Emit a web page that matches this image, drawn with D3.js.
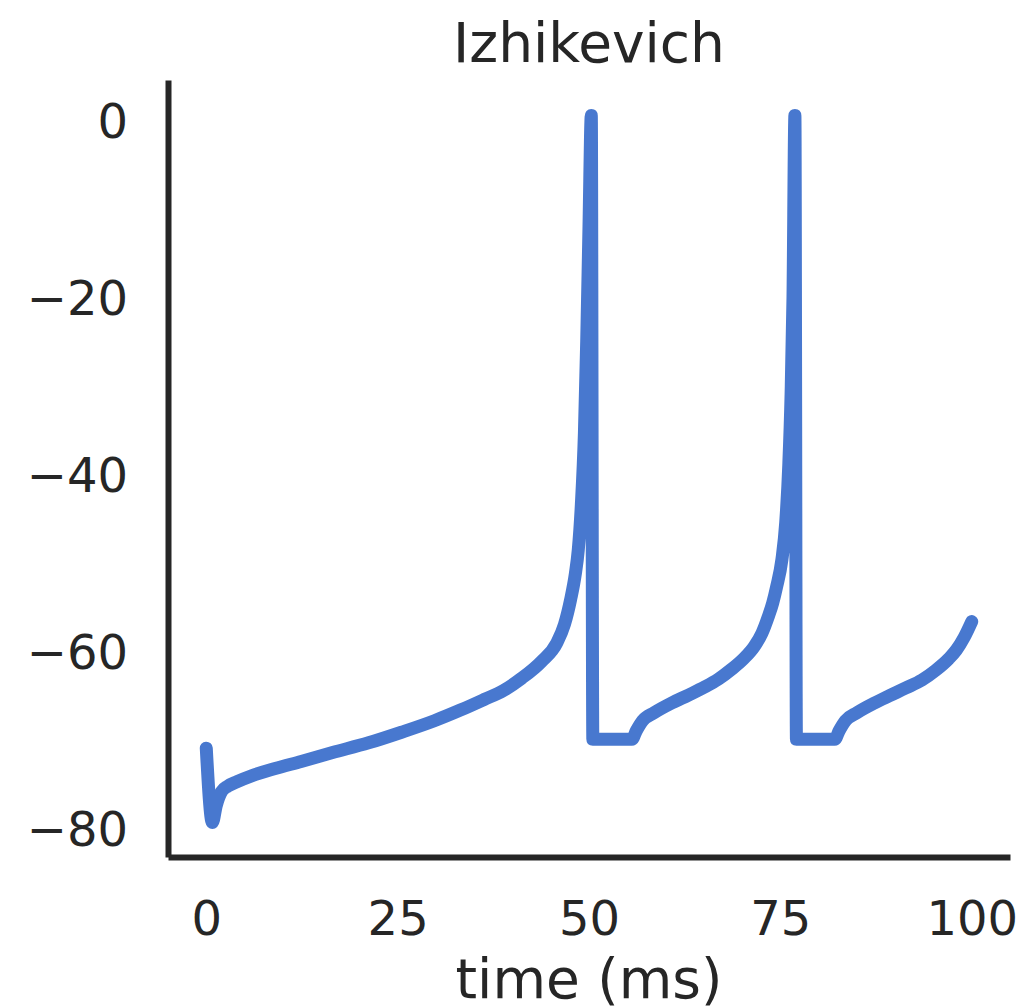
<!DOCTYPE html>
<html>
<head>
<meta charset="utf-8">
<script src="https://cdnjs.cloudflare.com/ajax/libs/d3/7.8.5/d3.min.js"></script>
<style>
  body { margin: 0; background: #fff; }
  text { font-family: "DejaVu Sans", sans-serif; fill: #262626; }
</style>
</head>
<body>
<svg id="viz" width="1025" height="1006"></svg>
<script>
/*********************/
/*** DATA          ***/
/*********************/

// membrane potential
let timeMs = [0, 0.8, 1.3, 2.0, 2.8, 4.0, 6.0, 9.0, 12.4, 16.5, 21.2, 25.5, 29.8, 33.2, 36.3, 38.8,
              41.2, 43.8, 45.8, 46.8, 47.6, 48.2, 48.6, 49.0, 49.4, 49.7, 50.0, 50.3, 50.5,
              55.6, 56.2, 57.0, 58.5, 60.8, 63.0, 65.1, 66.9, 68.6, 70.2, 71.6, 72.6, 73.4, 74.0,
              74.5, 75.2, 75.7, 76.1, 76.4, 76.65, 76.9, 77.1,
              82.1, 82.7, 83.5, 85.0, 87.3, 89.2, 91.4, 93.5, 95.3, 97.0, 98.0, 99.0, 100];
let voltage = [-71, -79.4, -77.5, -75.9, -75.3, -74.8, -74.1, -73.3, -72.5, -71.5, -70.4, -69.2, -67.9, -66.7, -65.5, -64.5,
               -63.1, -61.2, -59.1, -57.0, -54.2, -51.4, -48.6, -43.5, -35.4, -25, -12, 0.5, -70,
               -70, -69.0, -67.9, -67.0, -65.9, -65.0, -64.1, -63.2, -62.1, -60.9, -59.5, -58.0, -56.2, -54.6,
               -52.8, -49.7, -45.5, -39, -31, -20, 0.5, -70,
               -70, -69.0, -67.9, -67.0, -65.9, -65.1, -64.2, -63.3, -62.2, -60.9, -59.9, -58.5, -56.7];

let xTicks = [0, 25, 50, 75, 100],
    yTicks = [0, -20, -40, -60, -80];

let titleText  = "Izhikevich",
    xLabelText = "time (ms)";

/*********************/
/*** INIT VARIABLE ***/
/*********************/

let margin = {top: 80, right: 15, bottom: 149, left: 168},
    width  = 1025 - margin.left - margin.right,
    height = 1006 - margin.top - margin.bottom;

let svg = d3.select("#viz");

let x = d3.scaleLinear().domain([-5, 105]).range([margin.left, margin.left + width]),
    y = d3.scaleLinear().domain([-83.3, 4.5]).range([margin.top + height, margin.top]);

let points = timeMs.map(function(t, i) { return [t, voltage[i]]; });

/******************/
/*** DRAW PLOT  ***/
/******************/

// trace
let line = d3.line()
    .x(function(d) { return x(d[0]); })
    .y(function(d) { return y(d[1]); })
    .curve(d3.curveMonotoneX);

svg.append("path")
    .datum(points)
    .attr("d", line)
    .attr("fill", "none")
    .attr("stroke", "#4878cf")
    .attr("stroke-width", 13)
    .attr("stroke-linejoin", "round")
    .attr("stroke-linecap", "round");

// axes (no tick marks, seaborn white style)
let xAxis = svg.append("g")
    .attr("transform", "translate(0," + (margin.top + height) + ")")
    .call(d3.axisBottom(x).tickValues(xTicks).tickSize(0).tickPadding(78));

let yAxis = svg.append("g")
    .attr("transform", "translate(" + margin.left + ",0)")
    .call(d3.axisLeft(y).tickValues(yTicks).tickSize(0).tickPadding(40)
        .tickFormat(function(d) { return d < 0 ? "\u2212" + Math.abs(d) : d; }));

[xAxis, yAxis].forEach(function(g) {
    g.select(".domain").attr("stroke", "#262626").attr("stroke-width", 6);
    g.selectAll("text")
        .style("font-family", "DejaVu Sans")
        .attr("font-size", 48)
        .attr("fill", "#262626");
});
xAxis.selectAll("text").attr("dy", null).attr("y", 78);
yAxis.selectAll("text").attr("dy", "0.36em");

// title and label
svg.append("text")
    .attr("x", margin.left + width / 2)
    .attr("y", 62)
    .attr("text-anchor", "middle")
    .attr("font-size", 55)
    .text(titleText);

svg.append("text")
    .attr("x", margin.left + width / 2)
    .attr("y", 998)
    .attr("text-anchor", "middle")
    .attr("font-size", 55)
    .text(xLabelText);
</script>
</body>
</html>
